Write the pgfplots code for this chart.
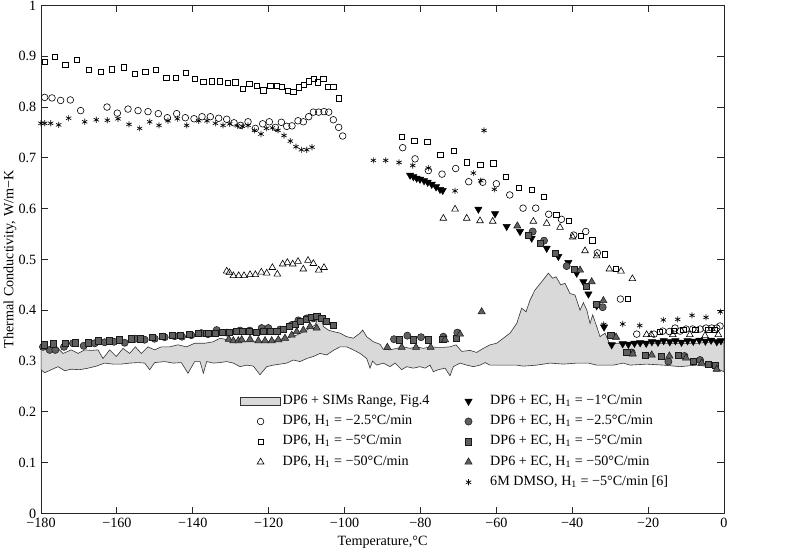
\documentclass[border=0pt]{standalone}
\usepackage{fontspec}
\setmainfont{Liberation Serif}
\usepackage{pgfplots}
\pgfplotsset{compat=1.18}
\definecolor{areafill}{RGB}{217,217,217}
\definecolor{darkfill}{RGB}{95,95,95}
\newcommand{\ff}{\fontsize{10.6}{13}\selectfont}
\pgfplotsset{
  om/.style={only marks, mark options={draw=black, line width=0.45pt, fill=none}},
  fm/.style={only marks, mark options={draw=black!90, line width=0.4pt, fill=darkfill}},
  myimg/.style={legend image code/.code={\path[draw=none,fill=none] (0pt,-3pt) rectangle (30pt,3pt);\draw[mark repeat=2,mark phase=2,##1] plot coordinates {(0pt,0pt)(15pt,0pt)(30pt,0pt)};}},
}
\begin{document}
\begin{tikzpicture}
\useasboundingbox (-30.75pt,-28.9pt) rectangle (569.25pt,385.1pt);
\begin{axis}[
  at={(0,0)}, anchor=south west,
  width=512.25pt, height=381pt, scale only axis,
  xmin=-180, xmax=0, ymin=0, ymax=1,
  xtick={-180,-160,-140,-120,-100,-80,-60,-40,-20,0},
  xticklabels={\mbox{−180},\mbox{−160},\mbox{−140},\mbox{−120},\mbox{−100},\mbox{−80},\mbox{−60},\mbox{−40},\mbox{−20},\mbox{0}},
  ytick={0,0.1,0.2,0.3,0.4,0.5,0.6,0.7,0.8,0.9,1},
  yticklabels={\mbox{0},\mbox{0.1},\mbox{0.2},\mbox{0.3},\mbox{0.4},\mbox{0.5},\mbox{0.6},\mbox{0.7},\mbox{0.8},\mbox{0.9},\mbox{1}},
  tick label style={font=\ff},
  label style={font=\ff},
  tick align=inside, major tick length=5pt,
  axis line style={black!85, line width=0.6pt},
  tick style={black!85, line width=0.6pt},
  xlabel={Temperature,°C},
  ylabel={Thermal Conductivity, W/m−K},
  xlabel style={at={(axis description cs:0.5,-0.056)}, anchor=center},
  ylabel style={at={(axis description cs:-0.0454,0.5)}, anchor=center},
  legend columns=2,
  legend style={at={(axis description cs:0.2914,0.2372)}, anchor=north west,
    draw=none, fill=none, inner sep=0pt, row sep=3.2pt, font=\ff,
    nodes={inner sep=1.25pt, text height=7pt, text depth=2.5pt},
    /tikz/every even column/.append style={column sep=13pt}},
  legend cell align=left,
  clip=true,
]
% shaded range
\addplot[fill=areafill, draw=black!80, line width=0.45pt, forget plot] coordinates {
(-180,0.322)(-179.03,0.328)(-177.28,0.319)(-175.52,0.325)(-174.20,0.315)(-172.00,0.322)(-170.25,0.315)(-168.49,0.322)(-166.73,0.321)(-164.98,0.322)(-163.66,0.305)(-161.90,0.322)(-160.15,0.309)(-158.39,0.325)(-156.63,0.315)(-155.14,0.328)(-153.56,0.315)(-151.80,0.328)(-150.04,0.322)(-148.28,0.328)(-146.09,0.328)(-143.89,0.332)(-141.69,0.328)(-139.50,0.335)(-136.86,0.335)(-134.58,0.338)(-132.82,0.345)(-131.06,0.342)(-128.43,0.338)(-125.79,0.338)(-123.16,0.338)(-120.52,0.338)(-117.88,0.342)(-115.25,0.345)(-112.61,0.351)(-109.98,0.361)(-107.78,0.371)(-106.46,0.394)(-105.58,0.368)(-104.27,0.361)(-102.95,0.358)(-101.19,0.355)(-99.44,0.348)(-97.68,0.345)(-95.92,0.355)(-95.22,0.361)(-94.16,0.348)(-92.41,0.338)(-90.65,0.333)(-89.78,0.323)(-88.02,0.322)(-86.26,0.325)(-84.50,0.328)(-82.75,0.325)(-80.99,0.328)(-79.23,0.325)(-77.48,0.328)(-75.72,0.327)(-73.96,0.327)(-72.21,0.328)(-70.62,0.332)(-69.13,0.319)(-66.93,0.321)(-65.18,0.317)(-63.42,0.325)(-61.66,0.332)(-59.91,0.335)(-58.15,0.345)(-56.39,0.355)(-54.63,0.374)(-53.32,0.404)(-52.18,0.397)(-51.12,0.420)(-49.80,0.440)(-48.05,0.456)(-46.29,0.473)(-45.15,0.463)(-44.27,0.466)(-43.04,0.450)(-41.90,0.453)(-40.58,0.433)(-39.26,0.430)(-37.94,0.400)(-37.06,0.415)(-36.18,0.401)(-35.30,0.374)(-34.60,0.391)(-33.55,0.368)(-32.67,0.348)(-31.35,0.355)(-30.03,0.332)(-28.28,0.335)(-24.76,0.335)(-20.37,0.335)(-15.10,0.335)(-11.58,0.335)(-7.19,0.335)(-2.80,0.338)(0,0.336)
(0,0.279)(-2.80,0.288)(-7.19,0.292)(-11.58,0.289)(-15.98,0.292)(-20.37,0.294)(-24.76,0.292)(-26.52,0.296)(-29.15,0.292)(-33.55,0.292)(-35.75,0.296)(-38.82,0.296)(-42.33,0.294)(-45.85,0.296)(-49.36,0.292)(-52.88,0.290)(-54.63,0.292)(-58.15,0.292)(-61.66,0.292)(-62.98,0.297)(-64.30,0.292)(-66.05,0.289)(-67.81,0.292)(-69.57,0.296)(-71.33,0.289)(-72.21,0.271)(-73.52,0.286)(-75.28,0.283)(-76.60,0.279)(-77.48,0.292)(-78.79,0.286)(-80.11,0.289)(-81.87,0.286)(-83.63,0.289)(-84.94,0.283)(-86.70,0.296)(-88.02,0.289)(-89.78,0.296)(-91.53,0.292)(-92.60,0.300)(-93.29,0.286)(-94.16,0.305)(-95.92,0.315)(-97.68,0.322)(-99.44,0.328)(-101.19,0.328)(-102.95,0.321)(-104.71,0.312)(-106.46,0.315)(-108.22,0.309)(-109.98,0.305)(-111.73,0.299)(-113.49,0.302)(-115.25,0.296)(-117.01,0.294)(-118.76,0.292)(-120.52,0.289)(-122.28,0.273)(-124.03,0.290)(-125.79,0.292)(-127.55,0.289)(-129.31,0.296)(-131.06,0.299)(-132.82,0.297)(-134.58,0.296)(-136.33,0.299)(-137.21,0.276)(-138.09,0.299)(-139.50,0.299)(-141.26,0.276)(-143.02,0.297)(-145.21,0.296)(-147.41,0.299)(-150.04,0.297)(-151.36,0.283)(-152.68,0.296)(-154.43,0.297)(-156.63,0.296)(-158.83,0.294)(-161.02,0.294)(-163.22,0.296)(-165.42,0.290)(-167.61,0.286)(-169.81,0.283)(-172.00,0.284)(-173.76,0.281)(-175.52,0.289)(-177.28,0.283)(-179.03,0.277)(-180,0.283)
} -- cycle;
% DP6 -2.5 open circles
\addplot[om, mark=o, mark size=2.5pt, forget plot] coordinates {
(-179.03,0.819)(-177.10,0.818)(-174.82,0.813)(-172.27,0.814)(-169.55,0.793)(-162.60,0.800)(-159.88,0.788)(-157.07,0.796)(-154.43,0.793)(-151.80,0.791)(-149.08,0.787)(-146.70,0.779)(-144.24,0.787)(-141.96,0.779)(-139.67,0.777)(-137.57,0.781)(-135.37,0.781)(-133.17,0.778)(-131.06,0.776)(-129.13,0.769)(-127.38,0.764)(-125.44,0.771)(-123.51,0.758)(-121.58,0.767)(-119.82,0.771)(-118.24,0.760)(-116.66,0.770)(-115.25,0.762)(-113.85,0.763)(-112.27,0.773)(-110.86,0.771)(-109.45,0.781)(-108.22,0.790)(-106.82,0.790)(-105.41,0.791)(-104.18,0.790)(-102.95,0.775)(-101.55,0.760)(-100.49,0.743)
(-84.68,0.720)(-81.42,0.698)(-77.91,0.675)(-74.31,0.668)(-70.71,0.679)(-67.28,0.653)(-63.59,0.652)(-59.99,0.649)(-56.47,0.627)(-52.96,0.601)(-49.62,0.601)(-46.19,0.589)(-42.85,0.579)(-39.61,0.548)(-36.44,0.555)(-33.37,0.513)(-27.30,0.422)
(-23.00,0.353)(-18.44,0.353)(-16.15,0.359)(-14.40,0.358)(-12.90,0.365)(-11.58,0.359)(-10.00,0.363)(-8.25,0.363)(-6.31,0.363)(-4.73,0.365)(-3.24,0.365)(-1.92,0.365)(-1.04,0.369)
};
% DP6 -5 open squares
\addplot[om, mark=square, mark size=2pt, forget plot] coordinates {
(-179.03,0.889)(-176.40,0.899)(-173.59,0.883)(-170.60,0.893)(-167.44,0.873)(-164.27,0.869)(-161.29,0.874)(-158.21,0.878)(-155.23,0.865)(-152.50,0.869)(-149.69,0.873)(-146.97,0.857)(-144.42,0.857)(-141.78,0.868)(-139.50,0.856)(-137.22,0.850)(-135.02,0.851)(-132.82,0.851)(-130.72,0.848)(-128.78,0.849)(-126.85,0.836)(-125.09,0.846)(-123.16,0.842)(-121.40,0.833)(-119.56,0.842)(-117.89,0.842)(-116.48,0.840)(-114.90,0.832)(-113.49,0.830)(-112.00,0.839)(-110.77,0.844)(-109.45,0.851)(-108.05,0.855)(-107.00,0.849)(-105.59,0.855)(-104.36,0.840)(-102.95,0.840)(-101.55,0.817)
(-84.94,0.742)(-81.60,0.733)(-78.17,0.732)(-74.75,0.706)(-71.15,0.714)(-67.81,0.691)(-64.20,0.686)(-60.78,0.689)(-57.53,0.663)(-54.10,0.641)(-50.68,0.637)(-47.51,0.624)(-44.17,0.588)(-40.92,0.576)(-37.80,0.546)(-34.69,0.538)(-31.35,0.510)(-28.45,0.481)(-25.38,0.422)
(-17.0,0.357)(-13.2,0.360)(-10.7,0.361)(-7.6,0.361)(-4.1,0.361)(-2.4,0.361)
};
% DP6 -50 open triangles
\addplot[om, mark=triangle, mark size=2.9pt, forget plot] coordinates {
(-131.06,0.477)(-130.36,0.474)(-129.31,0.468)(-127.90,0.468)(-126.49,0.468)(-124.91,0.470)(-123.51,0.470)(-121.93,0.475)(-120.52,0.473)(-119.03,0.484)(-117.71,0.471)(-116.30,0.491)(-115.07,0.494)(-113.67,0.491)(-112.26,0.496)(-110.86,0.481)(-109.63,0.498)(-108.22,0.492)(-106.81,0.479)(-105.41,0.484)
(-73.96,0.581)(-70.88,0.599)(-67.81,0.581)(-64.30,0.576)(-60.96,0.575)(-50.24,0.575)(-46.73,0.571)(-43.21,0.563)(-39.87,0.544)(-36.62,0.517)(-33.55,0.507)(-30.21,0.481)(-27.14,0.477)(-24.15,0.462)
(-20.4,0.352)(-19.2,0.352)(-13.5,0.352)(-9.0,0.352)(-5.0,0.350)(-1.5,0.352)
};
% 6M DMSO stars
\addplot[only marks, mark=asterisk, mark size=2.3pt, mark options={draw=black, line width=0.5pt}, forget plot] coordinates {
(-180.0,0.768)(-179.03,0.768)(-177.45,0.768)(-175.34,0.765)(-172.71,0.778)(-168.49,0.771)(-165.42,0.775)(-162.52,0.774)(-159.71,0.777)(-156.81,0.766)(-154.00,0.758)(-151.36,0.771)(-148.90,0.764)(-146.53,0.773)(-144.07,0.777)(-141.61,0.764)(-138.44,0.773)(-136.25,0.773)(-134.05,0.768)(-132.03,0.764)(-130.27,0.767)(-128.25,0.763)(-126.94,0.762)(-125.44,0.764)(-123.69,0.754)(-122.02,0.747)(-120.61,0.758)(-119.03,0.759)(-117.54,0.754)(-115.95,0.744)(-114.29,0.733)(-112.79,0.722)(-111.39,0.716)(-109.98,0.716)(-108.57,0.721)
(-92.41,0.695)(-89.16,0.695)(-85.64,0.691)(-82.04,0.685)(-77.91,0.680)(-70.88,0.635)(-66.05,0.670)(-64.12,0.655)(-63.24,0.754)(-60.52,0.638)
(-31.7,0.372)(-26.69,0.373)(-22.21,0.370)(-15.98,0.381)(-12.20,0.382)(-8.42,0.390)(-4.73,0.386)(-0.95,0.397)
};
% DP6+EC -1 filled down triangles
\addplot[fm, mark=triangle*, mark size=3.1pt, mark options={rotate=180}, forget plot] coordinates {
(-82.74,0.666)(-81.86,0.663)(-80.99,0.660)(-80.11,0.658)(-79.05,0.655)(-78.09,0.652)(-77.03,0.648)(-75.89,0.643)(-74.84,0.638)(-74.13,0.636)
(-64.73,0.599)(-60.34,0.590)
(-57.27,0.565)(-53.76,0.555)(-50.68,0.542)(-46.73,0.522)(-43.65,0.506)(-41.02,0.494)(-38.82,0.473)(-37.06,0.456)(-35.73,0.432)(-33.55,0.409)(-31.61,0.367)(-29.60,0.332)
(-26.7,0.334)(-25.2,0.333)(-23.6,0.335)(-22.1,0.336)(-20.5,0.335)(-19.0,0.338)(-17.4,0.337)(-15.9,0.340)(-14.3,0.338)(-12.8,0.340)(-11.2,0.337)(-9.6,0.340)(-8.1,0.339)(-6.5,0.341)(-4.9,0.339)(-3.4,0.341)(-1.9,0.338)(-0.8,0.340)
};
% DP6+EC -2.5 filled circles
\addplot[fm, mark=*, mark size=2.7pt, forget plot] coordinates {
(-179.47,0.328)(-177.71,0.322)(-176.22,0.322)(-173.94,0.328)(-171.57,0.335)(-168.75,0.330)(-165.86,0.335)(-163.22,0.337)(-160.76,0.338)(-157.95,0.336)(-155.14,0.344)(-152.68,0.342)(-150.04,0.344)(-147.41,0.347)(-144.77,0.349)(-142.84,0.348)(-140.38,0.351)(-137.74,0.355)(-135.99,0.353)
(-133.70,0.361)(-131.0,0.356)(-127.55,0.360)(-125.0,0.360)(-121.84,0.365)(-120.08,0.365)(-117.0,0.362)(-113.93,0.371)(-112.17,0.380)(-109.98,0.384)(-108.22,0.384)
(-86.96,0.343)(-83.45,0.350)(-79.85,0.347)(-73.96,0.348)(-70.27,0.356)
(-50.42,0.555)(-47.43,0.537)(-41.46,0.487)(-31.97,0.406)
(-24.32,0.317)(-14.66,0.299)(-10.44,0.310)(-6.31,0.302)
};
% DP6+EC -5 filled squares
\addplot[fm, mark=square*, mark size=2.3pt, forget plot] coordinates {
(-179.21,0.332)(-176.84,0.334)(-173.59,0.335)(-170.95,0.336)(-167.61,0.336)(-164.80,0.340)(-161.90,0.340)(-159.26,0.342)(-156.19,0.344)(-153.73,0.344)(-150.66,0.347)(-148.02,0.349)(-145.47,0.351)(-143.19,0.351)(-140.82,0.353)(-138.44,0.355)(-136.42,0.355)
(-135.89,0.355)(-134.14,0.355)(-132.12,0.356)(-130.36,0.357)(-128.60,0.358)(-126.85,0.358)(-125.09,0.358)(-123.33,0.357)(-121.40,0.358)(-119.64,0.358)(-117.88,0.359)(-116.13,0.363)(-114.55,0.368)(-113.05,0.373)(-111.73,0.378)(-110.15,0.383)(-108.66,0.386)(-107.34,0.388)(-106.02,0.384)(-104.71,0.378)(-102.95,0.371)
(-85.56,0.342)(-81.87,0.342)(-77.92,0.342)(-74.13,0.343)(-70.45,0.345)
(-51.56,0.548)(-48.49,0.532)(-44.53,0.512)(-39.50,0.480)(-36.19,0.447)(-33.55,0.411)
(-29.86,0.351)(-25.64,0.317)(-20.81,0.312)(-16.42,0.309)(-12.02,0.312)(-8.07,0.299)(-4.12,0.294)(-2.36,0.292)
};
% DP6+EC -50 filled up triangles
\addplot[fm, mark=triangle*, mark size=3.1pt, forget plot] coordinates {
(-130.5,0.343)(-129.31,0.340)(-127.99,0.340)(-127.11,0.342)(-124.91,0.343)(-122.72,0.340)(-120.96,0.340)(-119.20,0.340)(-117.45,0.342)(-115.69,0.345)(-113.93,0.351)(-112.61,0.358)(-110.86,0.361)(-109.10,0.368)(-107.34,0.365)
(-88.72,0.327)(-84.94,0.327)(-81.17,0.327)(-77.30,0.327)(-73.52,0.342)(-69.57,0.353)(-63.86,0.397)
(-54.46,0.566)(-37.94,0.479)(-34.87,0.456)(-31.79,0.419)
(-28.45,0.347)(-24.06,0.314)(-19.05,0.312)(-14.40,0.310)(-10.00,0.306)(-5.87,0.296)(-1.92,0.284)
};
% legend
\addlegendimage{legend image code/.code={\draw[fill=areafill, draw=black!80, line width=0.45pt] (0pt,-3pt) rectangle (30pt,3pt);}}
\addlegendentry{DP6 + SIMs Range, Fig.4}
\addlegendimage{myimg, fm, mark=triangle*, mark size=3.1pt, mark options={rotate=180}}
\addlegendentry{DP6 + EC, H\textsubscript{1} = −1°C/min}
\addlegendimage{myimg, om, mark=o, mark size=2.5pt}
\addlegendentry{DP6, H\textsubscript{1} = −2.5°C/min}
\addlegendimage{myimg, fm, mark=*, mark size=2.7pt}
\addlegendentry{DP6 + EC, H\textsubscript{1} = −2.5°C/min}
\addlegendimage{myimg, om, mark=square, mark size=2pt}
\addlegendentry{DP6, H\textsubscript{1} = −5°C/min}
\addlegendimage{myimg, fm, mark=square*, mark size=2.3pt}
\addlegendentry{DP6 + EC, H\textsubscript{1} = −5°C/min}
\addlegendimage{myimg, om, mark=triangle, mark size=2.9pt}
\addlegendentry{DP6, H\textsubscript{1} = −50°C/min}
\addlegendimage{myimg, fm, mark=triangle*, mark size=3.1pt}
\addlegendentry{DP6 + EC, H\textsubscript{1} = −50°C/min}
\addlegendimage{empty legend}
\addlegendentry{}
\addlegendimage{myimg, only marks, mark=asterisk, mark size=2.3pt, mark options={draw=black, line width=0.5pt}}
\addlegendentry{6M DMSO, H\textsubscript{1} = −5°C/min [6]}
\end{axis}
\end{tikzpicture}
\end{document}
